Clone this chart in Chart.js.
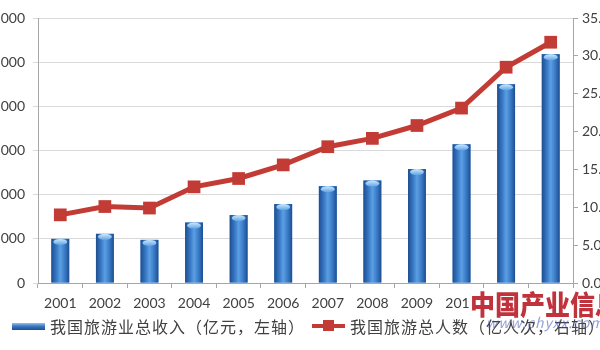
<!DOCTYPE html>
<html>
<head>
<meta charset="utf-8">
<script src="https://cdn.jsdelivr.net/npm/chart.js@4"></script>
<style>
  html, body { margin: 0; padding: 0; background: #fff; overflow: hidden; }
  #wrap { position: absolute; left: -20px; top: 0; width: 620px; height: 350px; }
  .legend { position: absolute; top: 316px; font-family: "Noto Sans CJK SC", sans-serif; font-size: 16px; letter-spacing: 1px; color: #404040; white-space: nowrap; line-height: 20px; }
  .legend .bar-icon { position: absolute; left: -38px; top: 7px; width: 33px; height: 7px; background: linear-gradient(#8fc3ee, #3b78c4 45%, #1d4e8f); }
  .legend .line-icon { position: absolute; left: -38px; top: 8px; width: 33px; height: 4px; background: #c23b34; }
  .legend .line-icon::after { content: ""; position: absolute; left: 11px; top: -4px; width: 11px; height: 11px; background: #c23b34; }
  .mark { position: absolute; font-family: "Noto Sans CJK SC", sans-serif; white-space: nowrap; }
</style>
</head>
<body>
<div id="wrap"><canvas id="chart"></canvas></div>
<div class="legend" style="left:50px"><span class="bar-icon"></span>我国旅游业总收入（亿元，左轴）</div>
<div class="legend" style="left:350px"><span class="line-icon"></span>我国旅游总人数（亿人次，右轴）</div>
<div class="mark" style="left:470px; top:289px; height:26px; line-height:26px; padding-right:20px; font-size:25px; font-weight:900; color:#c0323c; background:#fff; transform:scaleY(1.1); transform-origin:top left;">中国产业信息</div>
<div class="mark" style="left:486px; top:312px; font-size:14px; font-style:italic; color:rgba(60,80,180,0.55); letter-spacing:1px;">www.chyxx.com</div>
<script>
// Data
const years = ['2001', '2002', '2003', '2004', '2005', '2006', '2007', '2008', '2009', '2010', '2011', '2012'];
const revenue = [4995, 5566, 4882, 6840, 7686, 8935, 10957, 11600, 12900, 15700, 22500, 25900];
const visitors = [9.0, 10.1, 9.9, 12.7, 13.8, 15.6, 18.0, 19.1, 20.8, 23.1, 28.5, 31.8];
const revenueLabel = '我国旅游业总收入（亿元，左轴）';
const visitorsLabel = '我国旅游总人数（亿人次，右轴）';

const colors = {
  red: '#c23b34',
  blueDark: '#1d4e8f',
  blueMid: '#3a7bc8',
  blueLight: '#5c9fe2',
  grid: '#d9d9d9',
  axis: '#a6a6a6',
  text: '#404040'
};

const tickFont = { family: 'Lato, "Liberation Sans", sans-serif', size: 14 };

// Give the bars a rounded, shiny look
const barShine = {
  id: 'barShine',
  afterDatasetDraw(chart, args) {
    if (args.index !== 0) return;
    const ctx = chart.ctx;
    args.meta.data.forEach((bar) => {
      const left = bar.x - bar.width / 2;
      const w = bar.width;
      const h = bar.base - bar.y;
      const g = ctx.createLinearGradient(left, 0, left + w, 0);
      g.addColorStop(0, colors.blueDark);
      g.addColorStop(0.3, colors.blueMid);
      g.addColorStop(0.5, colors.blueLight);
      g.addColorStop(0.75, colors.blueMid);
      g.addColorStop(1, colors.blueDark);
      ctx.save();
      ctx.fillStyle = g;
      ctx.fillRect(left, bar.y, w, h);
      const top = ctx.createLinearGradient(0, bar.y, 0, bar.y + 6);
      top.addColorStop(0, '#cfe8fb');
      top.addColorStop(1, '#5fa6e6');
      ctx.fillStyle = top;
      ctx.beginPath();
      ctx.ellipse(bar.x, bar.y + 3, w / 2 - 2, 3, 0, 0, Math.PI * 2);
      ctx.fill();
      ctx.restore();
    });
  }
};

new Chart(document.getElementById('chart'), {
  data: {
    labels: years,
    datasets: [
      {
        type: 'bar',
        label: revenueLabel,
        data: revenue,
        yAxisID: 'y',
        backgroundColor: colors.blueMid,
        categoryPercentage: 0.8,
        barPercentage: 0.5,
        order: 2
      },
      {
        type: 'line',
        label: visitorsLabel,
        data: visitors,
        yAxisID: 'y1',
        borderColor: colors.red,
        backgroundColor: colors.red,
        borderWidth: 5,
        pointStyle: 'rect',
        pointRadius: 9,
        pointBackgroundColor: colors.red,
        pointBorderWidth: 0,
        tension: 0,
        order: 1
      }
    ]
  },
  options: {
    responsive: true,
    maintainAspectRatio: false,
    animation: false,
    layout: { padding: { top: 18, bottom: 37, left: 0, right: 0 } },
    plugins: {
      legend: { display: false },
      tooltip: { enabled: false }
    },
    scales: {
      x: {
        grid: { offset: true, drawOnChartArea: false, tickLength: 5, color: colors.axis },
        border: { color: colors.axis },
        ticks: { color: colors.text, font: tickFont, padding: 7, maxRotation: 0 },
        afterFit: (s) => { s.height = 30; }
      },
      y: {
        position: 'left',
        min: 0,
        max: 30000,
        ticks: { stepSize: 5000, color: colors.text, font: tickFont, padding: 8 },
        grid: { color: colors.grid, tickLength: 5 },
        border: { color: colors.axis },
        afterFit: (s) => { s.width = 58; }
      },
      y1: {
        position: 'right',
        min: 0,
        max: 35,
        ticks: { stepSize: 5, color: colors.text, font: tickFont, padding: 4, callback: (v) => v.toFixed(1) },
        grid: { drawOnChartArea: false, tickLength: 5, color: colors.axis },
        border: { color: colors.axis },
        afterFit: (s) => { s.width = 27; }
      }
    }
  },
  plugins: [barShine]
});
</script>
</body>
</html>
